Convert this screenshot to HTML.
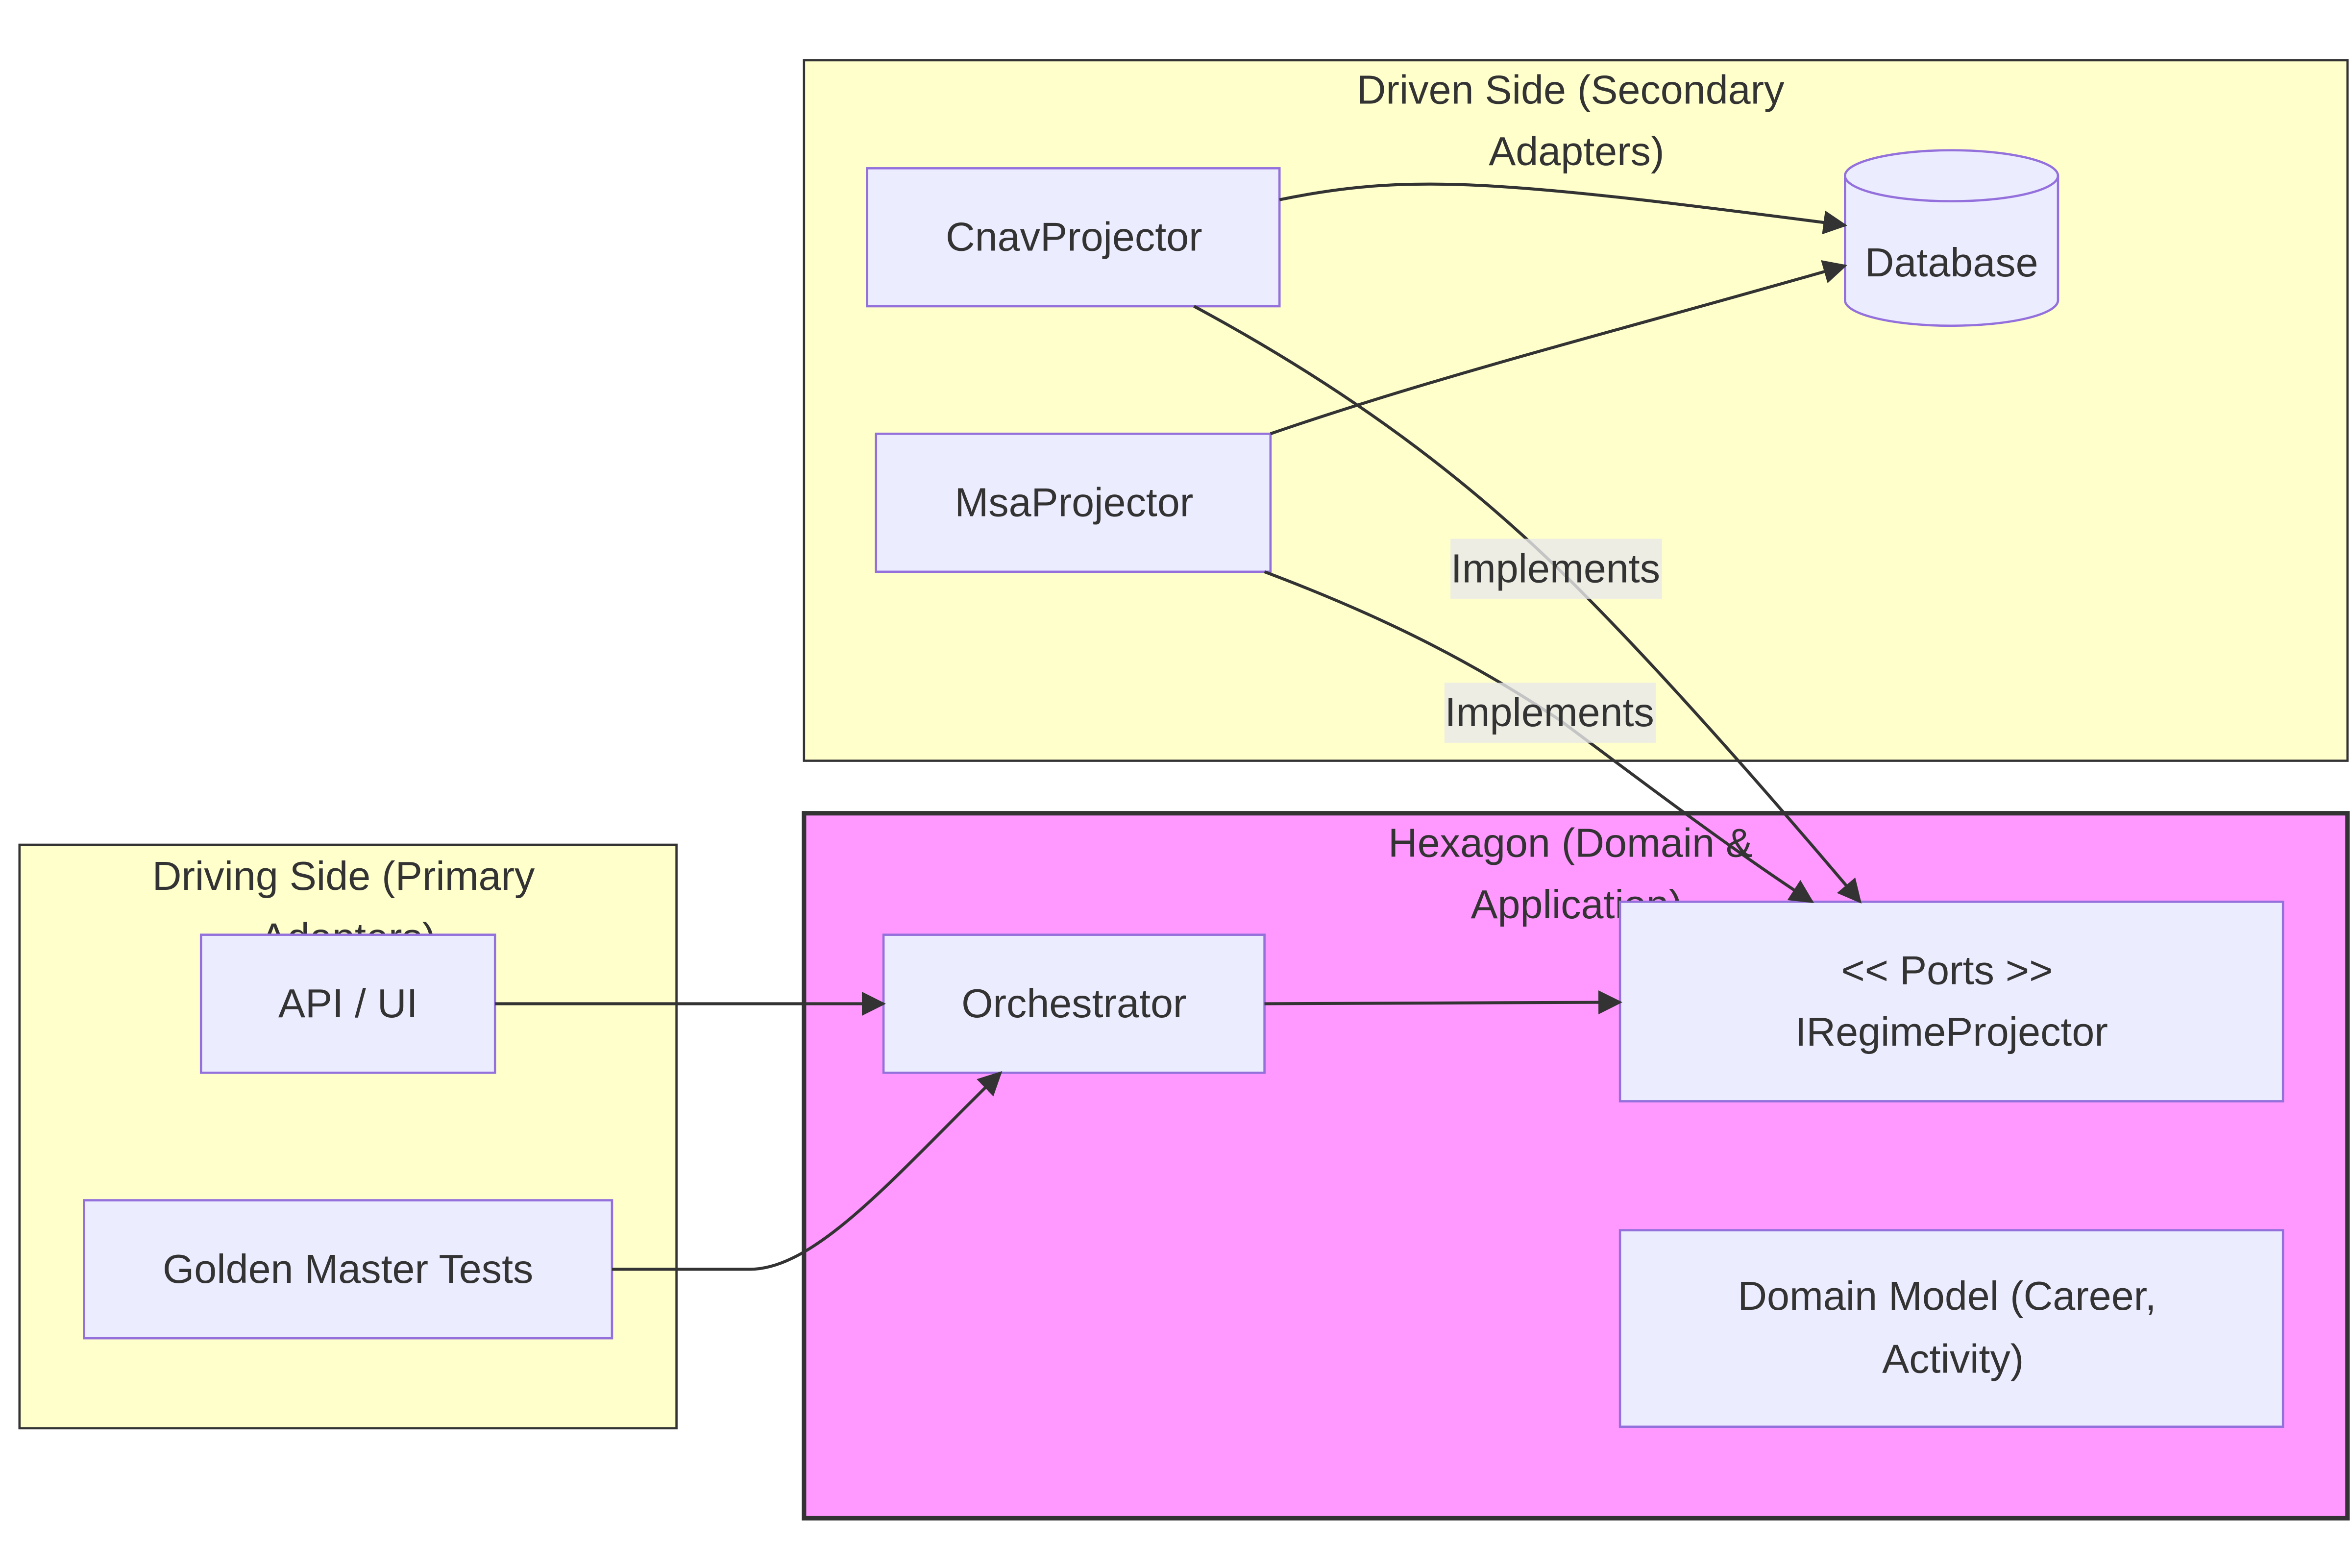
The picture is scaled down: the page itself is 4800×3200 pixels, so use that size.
<!DOCTYPE html>
<html><head><meta charset="utf-8"><style>
html,body{margin:0;padding:0;background:#fff;}
svg{display:block;}
text{font-family:"Liberation Sans",Arial,sans-serif;fill:#333;font-size:27px;}
</style></head><body>
<svg width="4800" height="3200" viewBox="0 0 1568 1045" xmlns="http://www.w3.org/2000/svg">
<defs>
<marker id="a" viewBox="0 0 10 10" refX="9" refY="5" markerWidth="16" markerHeight="16" markerUnits="userSpaceOnUse" orient="auto">
<path d="M0,0 L10,5 L0,10 z" fill="#333"/></marker>
</defs>
<rect x="536" y="40" width="1029" height="467" fill="#ffffcc" stroke="#333" stroke-width="1.5"/>
<text x="1047" y="69" text-anchor="middle">Driven Side (Secondary</text>
<text x="1051" y="110" text-anchor="middle">Adapters)</text>
<rect x="536" y="542" width="1029" height="470" fill="#ff99ff" stroke="#333" stroke-width="3"/>
<text x="1047" y="571" text-anchor="middle">Hexagon (Domain &amp;</text>
<text x="1051" y="612" text-anchor="middle">Application)</text>
<rect x="13" y="563" width="438" height="389" fill="#ffffcc" stroke="#333" stroke-width="1.5"/>
<text x="229" y="593" text-anchor="middle">Driving Side (Primary</text>
<text x="232" y="634" text-anchor="middle">Adapters)</text>

<g fill="#ececff" stroke="#9370db" stroke-width="1.5">
<rect x="578" y="112" width="275" height="92"/>
<rect x="584" y="289" width="263" height="92"/>
<rect x="1080" y="601" width="442" height="133"/>
<rect x="1080" y="820" width="442" height="131"/>
<rect x="589" y="623" width="254" height="92"/>
<rect x="134" y="623" width="196" height="92"/>
<rect x="56" y="800" width="352" height="92"/>
<path d="M1230,117 A71,17 0 0 1 1372,117 L1372,200 A71,17 0 0 1 1230,200 Z"/>
<path d="M1230,117 A71,17 0 0 0 1372,117" fill="none"/>
</g>

<g fill="none" stroke="#333" stroke-width="2">
<path d="M853,133 C940,115 1000,120 1230,150" marker-end="url(#a)"/>
<path d="M847,289 C960,250 1080,220 1230,177" marker-end="url(#a)"/>
<path d="M796,204 C900,260 980,320 1050,390 C1110,450 1180,530 1240,601" marker-end="url(#a)"/>
<path d="M843,381 C920,410 980,440 1040,480 C1100,525 1160,570 1208,601" marker-end="url(#a)"/>
<path d="M330,669 L589,669" marker-end="url(#a)"/>
<path d="M408,846 L500,846 C545,846 600,780 667,715" marker-end="url(#a)"/>
<path d="M843,669 L1080,668" marker-end="url(#a)"/>
</g>

<rect x="967" y="359" width="141" height="40" fill="#e8e8e8" opacity="0.8"/>
<text x="1037" y="388" text-anchor="middle">Implements</text>
<rect x="963" y="455" width="141" height="40" fill="#e8e8e8" opacity="0.8"/>
<text x="1033" y="484" text-anchor="middle">Implements</text>

<text x="716" y="167" text-anchor="middle">CnavProjector</text>
<text x="716" y="344" text-anchor="middle">MsaProjector</text>
<text x="1301" y="184" text-anchor="middle">Database</text>
<text x="1298" y="656" text-anchor="middle">&lt;&lt; Ports &gt;&gt;</text>
<text x="1301" y="697" text-anchor="middle">IRegimeProjector</text>
<text x="1298" y="873" text-anchor="middle">Domain Model (Career,</text>
<text x="1302" y="915" text-anchor="middle">Activity)</text>
<text x="716" y="678" text-anchor="middle">Orchestrator</text>
<text x="232" y="678" text-anchor="middle">API / UI</text>
<text x="232" y="855" text-anchor="middle">Golden Master Tests</text>
</svg>
</body></html>
